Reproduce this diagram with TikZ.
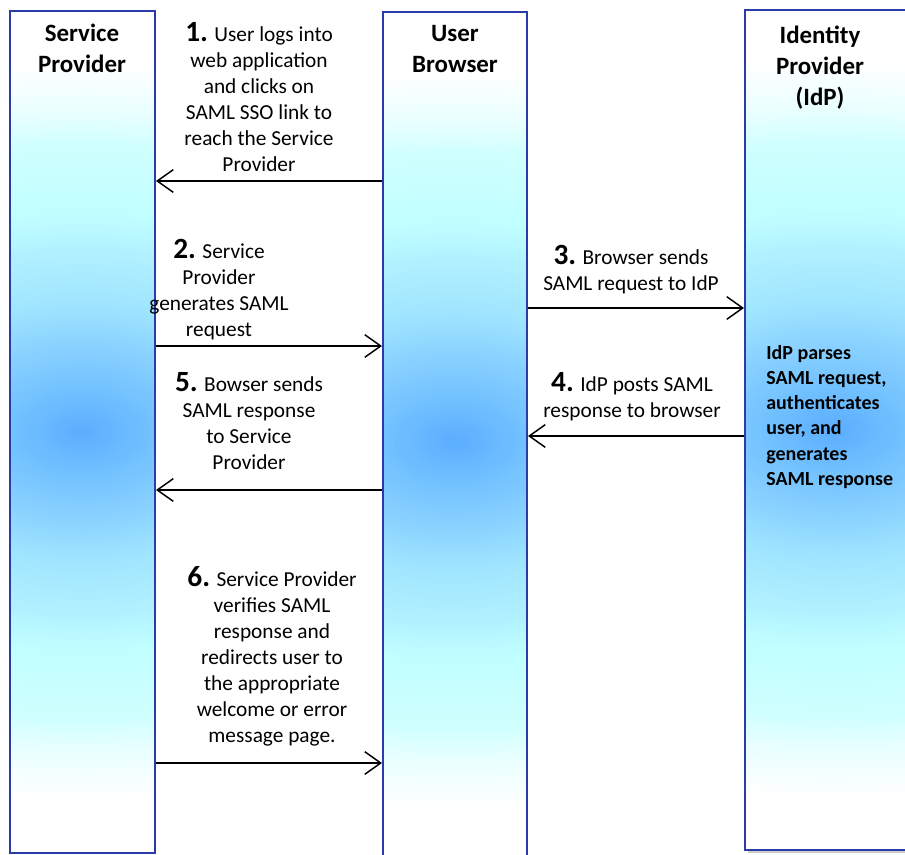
\documentclass[tikz,border=0pt]{standalone}
\usepackage{fontspec}
\setmainfont{Carlito}
\usetikzlibrary{arrows.meta,shadows,fit}
\definecolor{gA}{HTML}{5AACFF}
\definecolor{gB}{HTML}{70C0FF}
\definecolor{gC}{HTML}{88D0FF}
\definecolor{gD}{HTML}{A0E5FF}
\definecolor{gE}{HTML}{B0F0FF}
\definecolor{gF}{HTML}{C0FFFF}
\definecolor{gG}{HTML}{D0FFFF}
\definecolor{gH}{HTML}{E8FFFF}
\definecolor{colborder}{HTML}{2B3CA8}
% ring segment: from radius #2 (colour #4) down to radius #1 (colour #3) in #5 steps
\newcommand{\ringseg}[5]{%
  \foreach \k in {0,...,#5}{%
    \pgfmathsetmacro\rr{#2-(#2-#1)*\k/#5}%
    \pgfmathsetmacro\rx{1.6*\rr}%
    \pgfmathtruncatemacro\pp{100*\k/#5}%
    \fill[#3!\pp!#4] (gc) ellipse [x radius=\rx, y radius=\rr];
  }}
\newcommand{\gradfill}{%
  \coordinate (gc) at (path picture bounding box.center);
  \ringseg{320}{370}{gH}{white}{12}
  \ringseg{290}{320}{gG}{gH}{8}
  \ringseg{220}{290}{gF}{gG}{15}
  \ringseg{180}{220}{gE}{gF}{10}
  \ringseg{130}{180}{gD}{gE}{12}
  \ringseg{85}{130}{gC}{gD}{12}
  \ringseg{42}{85}{gB}{gC}{11}
  \ringseg{0}{42}{gA}{gB}{11}
}
\newcommand{\stepnum}[1]{{\fontsize{22}{19.5}\selectfont\bfseries #1}}
\tikzset{
  col/.style={draw=colborder, line width=1.5pt, fill=white, inner sep=0pt,
    path picture={\gradfill}},
  head/.style={font=\fontsize{18.7}{23.25}\selectfont\bfseries, align=center, inner sep=0pt, anchor=north},
  steptext/.style={font=\fontsize{16}{19.5}\selectfont, align=center, inner sep=0pt, anchor=north},
  idptext/.style={font=\fontsize{15}{18.9}\selectfont\bfseries, align=left, inner sep=0pt, anchor=north west},
  arr/.style={-{Straight Barb[length=12pt,width=17pt]}, line width=1.1pt, black}
}
\begin{document}
\begin{tikzpicture}[x=0.75pt,y=-0.75pt]
\useasboundingbox (0,0) rectangle (905,855);
\node[col, fit={(10,11) (155,853)}] (sp) {};
\node[col, fit={(383,12) (527,870)}] (br) {};
\node[col, drop shadow={shadow xshift=2.5pt, shadow yshift=-2.5pt, fill=gray!80}, fit={(745,10) (925,850)}] (idp) {};

\node[head] (hsp) at (82,24) {Service\\Provider};
\node[head] (hbr) at (455,25) {User\\Browser};
\node[head] (hidp) at (820,26) {Identity\\Provider\\(IdP)};

\node[steptext] (t1) at (259,22) {\stepnum{1.} User logs into\\web application\\and clicks on\\SAML SSO link to\\reach the Service\\Provider};
\node[steptext] (t2) at (219,239) {\stepnum{2.} Service\\Provider\\generates SAML\\request};
\node[steptext] (t3) at (631,245) {\stepnum{3.} Browser sends\\SAML request to IdP};
\node[steptext] (t4) at (632,372) {\stepnum{4.} IdP posts SAML\\response to browser};
\node[steptext] (t5) at (249,372) {\stepnum{5.} Bowser sends\\SAML response\\to Service\\Provider};
\node[steptext] (t6) at (272,566) {\stepnum{6.} Service Provider\\verifies SAML\\response and\\redirects user to\\the appropriate\\welcome or error\\message page.};
\node[idptext] (tidp) at (766,345) {IdP parses\\SAML request,\\authenticates\\user, and\\generates\\SAML response};

\draw[arr] (br.west |- 0,181) -- (sp.east |- 0,181);
\draw[arr] (sp.east |- 0,346) -- (br.west |- 0,346);
\draw[arr] (br.east |- 0,308) -- (idp.west |- 0,308);
\draw[arr] (idp.west |- 0,436) -- (br.east |- 0,436);
\draw[arr] (br.west |- 0,490) -- (sp.east |- 0,490);
\draw[arr] (sp.east |- 0,763) -- (br.west |- 0,763);
\end{tikzpicture}
\end{document}
